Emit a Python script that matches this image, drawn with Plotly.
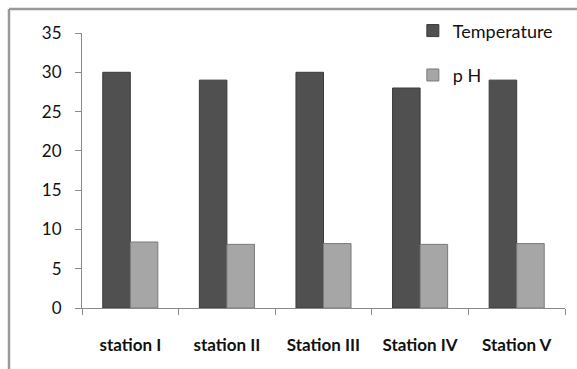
import plotly.graph_objects as go

categories = ["station I", "station II", "Station III", "Station IV", "Station V"]
temperature = [30, 29, 30, 28, 29]
ph = [8.4, 8.1, 8.2, 8.1, 8.2]
y_ticks = [0, 5, 10, 15, 20, 25, 30, 35]

fig = go.Figure()
fig.add_trace(go.Bar(
    x=categories, y=temperature, name="Temperature", legendgroup="t",
    marker=dict(color="#505050", line=dict(color="#3a3a3a", width=1)),
))
fig.add_trace(go.Bar(
    x=categories, y=ph, name="p H", legendgroup="p",
    marker=dict(color="#a6a6a6", line=dict(color="#7a7a7a", width=1)),
))

fig.update_layout(
    width=577, height=369,
    margin=dict(l=82, r=12, t=33, b=61),
    paper_bgcolor="white", plot_bgcolor="white",
    barmode="group", bargap=0.43, bargroupgap=0,
    font=dict(family="Lato", color="#111111"),
    legend=dict(
        x=0.685, y=1.075, xanchor="left", yanchor="top",
        font=dict(family="Lato", size=18, color="#111111"),
        traceorder="grouped", tracegroupgap=18,
        bgcolor="rgba(0,0,0,0)", itemwidth=30,
    ),
    showlegend=True,
)
fig.update_yaxes(
    range=[0, 35], tickvals=y_ticks, showgrid=False, zeroline=False,
    showline=True, linecolor="#8a8a8a", linewidth=1,
    ticks="outside", ticklen=6, tickcolor="#8a8a8a",
    tickfont=dict(family="Lato", size=17, color="#111111"),
    ticklabelstandoff=10,
)
fig.update_xaxes(
    showgrid=False, showline=True, linecolor="#8a8a8a", linewidth=1,
    ticks="outside", ticklen=6, tickcolor="#8a8a8a", tickson="boundaries",
    tickfont=dict(family="Lato", size=17, color="#111111", weight="bold"),
    ticklabelstandoff=22,
)

# outer chart frame
fig.add_shape(type="line", xref="paper", yref="paper",
              x0=-73/483, x1=1.1, y0=(308-9)/275, y1=(308-9)/275,
              line=dict(color="#9a9a9a", width=2.5))
fig.add_shape(type="line", xref="paper", yref="paper",
              x0=-73/483, x1=-73/483, y0=(308-9)/275, y1=-0.3,
              line=dict(color="#9a9a9a", width=2.5))

fig.write_html("out.html")
